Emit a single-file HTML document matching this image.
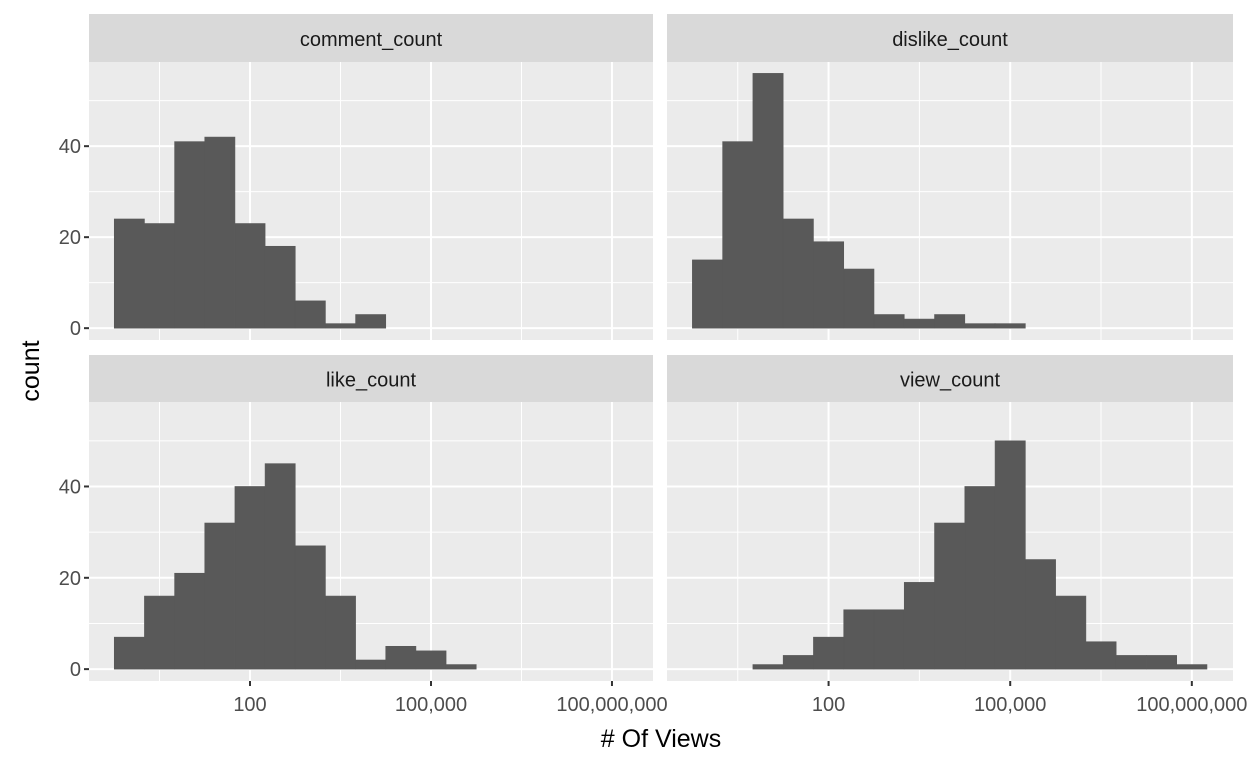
<!DOCTYPE html>
<html><head><meta charset="utf-8"><style>
html,body{margin:0;padding:0;background:#fff;}
svg{display:block;font-family:"Liberation Sans",Arial,sans-serif;}
</style></head><body>
<svg id="chart" width="1248" height="768"></svg>
<script>
const facetNames = ["comment_count","dislike_count","like_count","view_count"];
const binCentersLog = [0,0.5,1,1.5,2,2.5,3,3.5,4,4.5,5,5.5,6,6.5,7,7.5,8];
const commentCounts = [24,23,41,42,23,18,6,1,3];
const dislikeCounts = [15,41,56,24,19,13,3,2,3,1,1];
const likeCounts = [7,16,21,32,40,45,27,16,2,5,4,1];
const viewCounts = [0,0,1,3,7,13,13,19,32,40,50,24,16,6,3,3,1];
const yTicks = [0,20,40];
const yMinor = [10,30,50];
const xTicksLog = [2,5,8];
const xTickLabels = ["100","100,000","100,000,000"];
const xMinorLog = [0.5,3.5,6.5];

const series=[commentCounts,dislikeCounts,likeCounts,viewCounts];
const NS="http://www.w3.org/2000/svg";
const svg=document.getElementById('chart');
function mk(t,a,p){const e=document.createElementNS(NS,t);for(const k in a)e.setAttribute(k,a[k]);(p||svg).appendChild(e);return e;}
const panels=[{x0:89,x1:653,sy:14,py:62,pb:340},{x0:667,x1:1233,sy:14,py:62,pb:340},
{x0:89,x1:653,sy:355,py:402,pb:681},{x0:667,x1:1233,sy:355,py:402,pb:681}];
const xmin=-0.669,xmax=8.68,ymin=-2.6,ymax=58.5;
const binW=0.5;
panels.forEach((p,i)=>{
  const g=mk('g',{});
  
  
  const X=v=>p.x0+(v-xmin)/(xmax-xmin)*(p.x1-p.x0);
  const Y=v=>p.pb-(v-ymin)/(ymax-ymin)*(p.pb-p.py);
  const strip=mk('rect',{x:p.x0,y:p.sy,width:p.x1-p.x0,height:p.py-p.sy,fill:'#d9d9d9'},g);
  
  const st=mk('text',{x:(p.x0+p.x1)/2,y:(p.sy+p.py)/2+8,'text-anchor':'middle','font-size':'20',fill:'#1a1a1a'},g);
  st.textContent=facetNames[i];
  
  mk('rect',{x:p.x0,y:p.py,width:p.x1-p.x0,height:p.pb-p.py,fill:'#ebebeb'},g);
  yMinor.forEach(v=>mk('line',{x1:p.x0,x2:p.x1,y1:Y(v),y2:Y(v),stroke:'#fff','stroke-width':1},g));
  xMinorLog.forEach(v=>mk('line',{x1:X(v),x2:X(v),y1:p.py,y2:p.pb,stroke:'#fff','stroke-width':1},g));
  yTicks.forEach(v=>mk('line',{x1:p.x0,x2:p.x1,y1:Y(v),y2:Y(v),stroke:'#fff','stroke-width':2},g));
  xTicksLog.forEach(v=>mk('line',{x1:X(v),x2:X(v),y1:p.py,y2:p.pb,stroke:'#fff','stroke-width':2},g));
  series[i].forEach((c,j)=>{
    if(!c)return;
    const l=binCentersLog[j]-binW/2;
    const r=mk('rect',{x:X(l),y:Y(c),width:X(l+binW)-X(l),height:Y(0)-Y(c),fill:'#595959',stroke:'#595959','stroke-width':0.6},g);
    
  });
  if(i%2===0){
    yTicks.forEach(v=>{
      mk('line',{x1:p.x0-5,x2:p.x0,y1:Y(v),y2:Y(v),stroke:'#333','stroke-width':2},g);
      const t=mk('text',{x:p.x0-8,y:Y(v)+7,'text-anchor':'end','font-size':'20',fill:'#4d4d4d'},g);
      t.textContent=v;
    });
  }
  if(i>=2){
    xTicksLog.forEach((v,k)=>{
      mk('line',{x1:X(v),x2:X(v),y1:p.pb,y2:p.pb+5,stroke:'#333','stroke-width':2},g);
      const t=mk('text',{x:X(v),y:p.pb+30,'text-anchor':'middle','font-size':'20',fill:'#4d4d4d'},g);
      t.textContent=xTickLabels[k];
    });
  }
});
const xt=mk('text',{x:661,y:747,'text-anchor':'middle','font-size':'25',fill:'#000'});
xt.textContent='# Of Views';
const yt=mk('text',{x:39,y:371,'text-anchor':'middle','font-size':'25',fill:'#000',transform:'rotate(-90 39 371)'});
yt.textContent='count';
</script>
</body></html>
